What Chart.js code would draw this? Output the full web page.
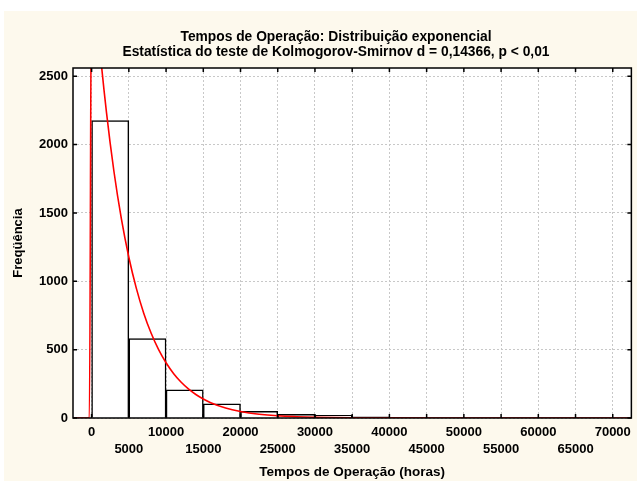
<!DOCTYPE html>
<html>
<head>
<meta charset="utf-8">
<script src="https://cdn.jsdelivr.net/npm/chart.js@4/dist/chart.umd.min.js"></script>
<style>
  html, body { margin: 0; padding: 0; background: #fff; }
</style>
</head>
<body>
<canvas id="hist-chart" width="637" height="481"></canvas>
<script>
const titleLines = [
  "Tempos de Operação: Distribuição exponencial",
  "Estatística do teste de Kolmogorov-Smirnov d = 0,14366, p < 0,01"
];
const xTitle = "Tempos de Operação (horas)";
const yTitle = "Freqüência";

// histogram bins (start of each 5000 h class) and counts
const binStarts = [0, 5000, 10000, 15000, 20000, 25000, 30000, 35000, 40000, 45000, 50000, 55000, 60000, 65000];
const binCounts = [2176, 581, 206, 103, 49, 26, 20, 8, 3, 2, 1, 1, 1, 1];
const binWidth = 5000;

// fitted exponential curve
const curveX = [-2500, -300, 0, 1000, 2000, 3000, 4000, 5000, 6000, 7000, 8000, 9000, 10000,
  11000, 12000, 13000, 14000, 15000, 16000, 18000, 20000, 22500, 25000, 27500, 30000, 35000, 40000, 50000, 72500];
const curveY = [0, 0, 3423, 2764, 2233, 1803, 1456, 1176, 950, 767, 620, 500, 404,
  326, 263, 213, 172, 139, 112, 73, 48, 28, 16, 9.6, 5.6, 1.9, 0.6, 0.08, 0];

const xTickValues = [0, 5000, 10000, 15000, 20000, 25000, 30000, 35000, 40000, 45000, 50000, 55000, 60000, 65000, 70000];
const yTickValues = [0, 500, 1000, 1500, 2000, 2500];

Chart.defaults.font.family = '"Liberation Sans", Arial, sans-serif';
Chart.defaults.color = "#000";

const tickFont = { size: 13, weight: "bold" };

const framePlugin = {
  id: "frame",
  beforeDraw(chart) {
    const { ctx, chartArea: a } = chart;
    ctx.save();
    ctx.fillStyle = "#fdf9ed";
    ctx.fillRect(4, 11, chart.width - 4, chart.height - 11);
    ctx.fillStyle = "#fff";
    ctx.fillRect(a.left, a.top, a.right - a.left, a.bottom - a.top);
    ctx.restore();
  },
  afterDraw(chart) {
    const { ctx, chartArea: a, scales } = chart;
    ctx.save();
    ctx.strokeStyle = "#000";
    ctx.lineWidth = 1.5;
    ctx.strokeRect(a.left, a.top, a.right - a.left, a.bottom - a.top);
    ctx.beginPath();
    xTickValues.forEach(v => {
      const px = scales.x.getPixelForValue(v);
      ctx.moveTo(px, a.top); ctx.lineTo(px, a.top + 4);
      ctx.moveTo(px, a.bottom); ctx.lineTo(px, a.bottom - 4);
    });
    yTickValues.forEach(v => {
      const py = scales.y.getPixelForValue(v);
      ctx.moveTo(a.left, py); ctx.lineTo(a.left + 4, py);
      ctx.moveTo(a.right, py); ctx.lineTo(a.right - 4, py);
    });
    ctx.stroke();

    ctx.fillStyle = "#000";
    ctx.font = 'bold 13.8px "Liberation Sans", Arial, sans-serif';
    ctx.textAlign = "center";
    ctx.textBaseline = "middle";
    ctx.fillText(titleLines[0], 336, 37);
    ctx.fillText(titleLines[1], 336, 52);
    ctx.restore();
  }
};

new Chart(document.getElementById("hist-chart").getContext("2d"), {
  type: "bar",
  data: {
    datasets: [
      {
        type: "line",
        label: "Exponencial",
        data: curveX.map((x, i) => ({ x, y: curveY[i] })),
        borderColor: "#ff0000",
        borderWidth: 1.6,
        pointRadius: 0,
        cubicInterpolationMode: "monotone",
        order: 0
      },
      {
        type: "bar",
        label: "Frequência",
        data: binStarts.map((s, i) => ({ x: s + binWidth / 2, y: binCounts[i] })),
        backgroundColor: "#fff",
        borderColor: "#000",
        borderWidth: 1.5,
        barPercentage: 1,
        categoryPercentage: 1,
        order: 1
      }
    ]
  },
  options: {
    responsive: false,
    devicePixelRatio: 1,
    animation: false,
    layout: { padding: { top: 68, right: 5, left: 0, bottom: 0 } },
    plugins: {
      legend: { display: false },
      tooltip: { enabled: false }
    },
    scales: {
      x: {
        type: "linear",
        min: -2500,
        max: 72500,
        offset: false,
        afterBuildTicks: s => { s.ticks = xTickValues.map(v => ({ value: v })); },
        afterFit: s => { s.height = 63; },
        grid: { color: "#c8c8c8", lineWidth: 1, drawTicks: false, offset: false },
        border: { display: false, dash: [2, 2] },
        ticks: {
          autoSkip: false,
          maxRotation: 0,
          minRotation: 0,
          padding: 6,
          font: { size: 13, weight: "bold", lineHeight: "17px" },
          callback: (value, index) => index % 2 === 0 ? [String(value), ""] : ["", String(value)]
        },
        title: { display: true, text: xTitle, font: { size: 13.5, weight: "bold" }, padding: { top: 0, bottom: 1 } }
      },
      y: {
        min: 0,
        max: 2560,
        afterBuildTicks: s => { s.ticks = yTickValues.map(v => ({ value: v })); },
        afterFit: s => { s.width = 73; },
        grid: { color: "#c8c8c8", lineWidth: 1, drawTicks: false },
        border: { display: false, dash: [2, 2] },
        ticks: { padding: 5, font: tickFont, callback: value => String(value) },
        title: { display: true, text: yTitle, font: { size: 13, weight: "bold" }, padding: { top: 11, bottom: 0 } }
      }
    }
  },
  plugins: [framePlugin]
});
</script>
</body>
</html>
